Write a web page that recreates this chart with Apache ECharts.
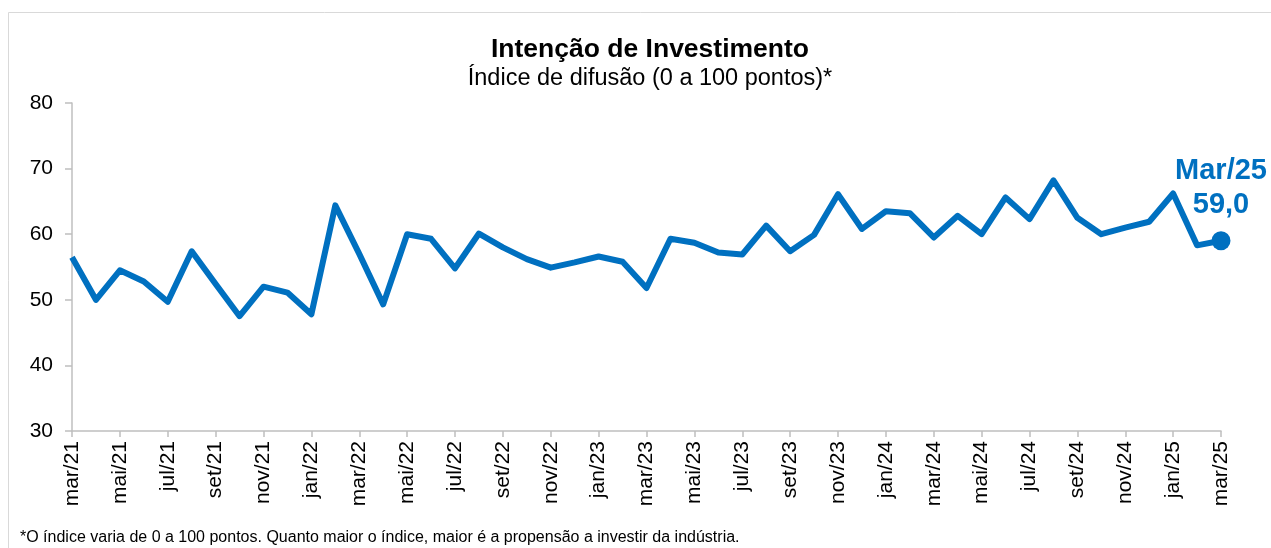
<!DOCTYPE html>
<html>
<head>
<meta charset="utf-8">
<title>Intenção de Investimento</title>
<script src="https://cdn.jsdelivr.net/npm/echarts@6/dist/echarts.min.js"></script>
<style>
  html, body { margin: 0; padding: 0; background: #fff; }
  #chart { width: 1271px; height: 548px; }
</style>
</head>
<body>
<div id="chart"></div>
<script>
// meses: mar/21 ate mar/25
var months = ['mar','abr','mai','jun','jul','ago','set','out','nov','dez','jan','fev'];
var categories = [];
for (var y = 21, m = 0; categories.length < 49; m++) {
  if (m === 12) { m = 0; }
  if (m === 10) { y++; }
  categories.push(months[m] + '/' + y);
}
// valores do indice
var valores = [
  56.5, 50.0, 54.5, 52.8, 49.7, 57.4, 52.4, 47.5, 52.0, 51.1, 47.8, 64.4,
  57.0, 49.3, 60.0, 59.3, 54.8, 60.1, 58.0, 56.2, 54.9, 55.7, 56.6, 55.8,
  51.8, 59.3, 58.7, 57.2, 56.9, 61.3, 57.4, 59.9, 66.1, 60.8, 63.5, 63.2,
  59.5, 62.8, 60.0, 65.6, 62.3, 68.2, 62.5, 60.0, 61.0, 61.9, 66.2, 58.3,
  59.0
];
var yTicks = { min: 30, max: 80, interval: 10 };

var font = '"Liberation Sans", Arial, sans-serif';
var azul = '#0070C0';

var serie = valores.map(function (v, i) {
  if (i === valores.length - 1) {
    return {
      value: v,
      symbol: 'circle',
      symbolSize: 19,
      label: {
        show: true,
        position: 'top',
        distance: 9,
        color: azul,
        fontFamily: font,
        fontWeight: 'bold',
        fontSize: 29,
        lineHeight: 34,
        align: 'center',
        formatter: function (p) {
          var c = p.name;
          return c.charAt(0).toUpperCase() + c.slice(1) + '\n' + p.value.toFixed(1).replace('.', ',');
        }
      }
    };
  }
  return v;
});

var myChart = echarts.init(document.getElementById('chart'));
myChart.setOption({
  animation: false,
  backgroundColor: '#fff',
  title: {
    text: 'Intenção de Investimento',
    subtext: 'Índice de difusão (0 a 100 pontos)*',
    left: 645,
    textAlign: 'center',
    top: 31,
    itemGap: 4,
    textStyle: { fontFamily: font, fontWeight: 'bold', fontSize: 26.5, color: '#000' },
    subtextStyle: { fontFamily: font, fontSize: 23.5, color: '#000' }
  },
  graphic: [
    {
      type: 'rect',
      shape: { x: 8.5, y: 12.5, width: 1300, height: 600 },
      style: { fill: 'none', stroke: '#d9d9d9', lineWidth: 1 },
      silent: true
    },
    {
      type: 'text',
      left: 20,
      top: 530,
      style: {
        text: '*O índice varia de 0 a 100 pontos. Quanto maior o índice, maior é a propensão a investir da indústria.',
        fontFamily: font,
        fontSize: 16,
        fill: '#000'
      }
    }
  ],
  grid: { left: 72, right: 50, top: 103, bottom: 117, containLabel: false },
  xAxis: {
    type: 'category',
    data: categories,
    boundaryGap: false,
    axisLine: { lineStyle: { color: '#bfbfbf', width: 1.5 } },
    axisTick: { show: true, interval: 1, length: 6, lineStyle: { color: '#bfbfbf', width: 1.5 } },
    axisLabel: {
      interval: 1,
      rotate: 90,
      margin: 10,
      color: '#000',
      fontFamily: font,
      fontSize: 21
    },
    splitLine: { show: false }
  },
  yAxis: {
    type: 'value',
    min: yTicks.min,
    max: yTicks.max,
    interval: yTicks.interval,
    axisLine: { show: true, lineStyle: { color: '#bfbfbf', width: 1.5 } },
    axisTick: { show: true, length: 7, lineStyle: { color: '#bfbfbf', width: 1.5 } },
    axisLabel: { margin: 19, color: '#000', fontFamily: font, fontSize: 21 },
    splitLine: { show: false }
  },
  series: [{
    type: 'line',
    data: serie,
    symbol: 'none',
    showSymbol: true,
    itemStyle: { color: azul },
    lineStyle: { color: azul, width: 6, join: 'round' }
  }]
});
</script>
</body>
</html>
